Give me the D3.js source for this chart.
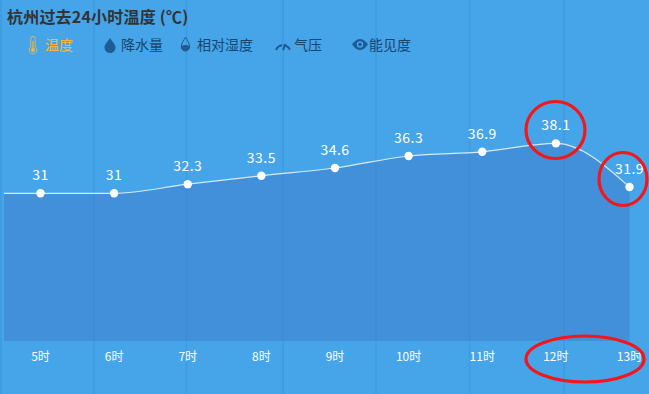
<!DOCTYPE html>
<html>
<head>
<meta charset="utf-8">
<script src="https://d3js.org/d3.v7.min.js"></script>
<style>
html, body { margin: 0; padding: 0; background: #46a4e9; overflow: hidden; }
text { font-family: "Noto Sans CJK SC", "Noto Sans", sans-serif; }
</style>
</head>
<body>
<div id="chart"></div>
<script>
const hours = ["5时", "6时", "7时", "8时", "9时", "10时", "11时", "12时", "13时"];
const temps = [31, 31, 32.3, 33.5, 34.6, 36.3, 36.9, 38.1, 31.9];
const gridLines = [1, 94, 186.5, 283, 376, 469.5, 564]; // background stripes, not on the hours
const legendNames = ["温度", "降水量", "相对湿度", "气压", "能见度"];
const titleText = "杭州过去24小时温度 (℃)";

const width = 649, height = 394;

const svg = d3.select("#chart").append("svg")
    .attr("width", width)
    .attr("height", height)
    .style("display", "block");

svg.append("rect")
    .attr("width", width)
    .attr("height", height)
    .attr("fill", "#46a4e9");

// Scales
const x = d3.scalePoint()
    .domain(hours)
    .range([40.5, 629.5]);
const y = d3.scaleLinear()
    .domain([10, 40])
    .range([341, 130]);

const left = 4;

// The series runs flat from the left edge up to the first point
const points = [[left, y(temps[0])]].concat(hours.map((h, i) => [x(h), y(temps[i])]));

const area = d3.area()
    .x(d => d[0])
    .y0(y(10))
    .y1(d => d[1])
    .curve(d3.curveMonotoneX);
const line = d3.line()
    .x(d => d[0])
    .y(d => d[1])
    .curve(d3.curveMonotoneX);

svg.append("path")
    .attr("d", area(points))
    .attr("fill", "#4390da");

// Vertical stripes, faint and on top of the area
svg.selectAll(".stripe")
    .data(gridLines)
    .enter()
    .append("line")
    .attr("class", "stripe")
    .attr("x1", d => d)
    .attr("x2", d => d)
    .attr("y1", 0)
    .attr("y2", height)
    .attr("stroke", "#2f8ccb")
    .attr("stroke-opacity", 0.35)
    .attr("stroke-width", 1.5);

svg.append("path")
    .attr("d", line(points))
    .attr("fill", "none")
    .attr("stroke", "#d5eafa")
    .attr("stroke-width", 1.2);

// Dots and value labels
svg.selectAll(".dot")
    .data(temps)
    .enter()
    .append("circle")
    .attr("class", "dot")
    .attr("cx", (d, i) => x(hours[i]))
    .attr("cy", d => y(d))
    .attr("r", 4.2)
    .attr("fill", "#fff");

svg.selectAll(".val")
    .data(temps)
    .enter()
    .append("text")
    .attr("class", "val")
    .attr("x", (d, i) => x(hours[i]))
    .attr("y", d => y(d) - 13)
    .attr("text-anchor", "middle")
    .attr("fill", "#fff")
    .style("font-size", "14px")
    .style("letter-spacing", "0.5px")
    .text(d => d);

// Hour labels
svg.selectAll(".hour")
    .data(hours)
    .enter()
    .append("text")
    .attr("class", "hour")
    .attr("x", d => x(d))
    .attr("y", 361)
    .attr("text-anchor", "middle")
    .attr("fill", "#fff")
    .style("font-size", "12px")
    .text(d => d);

// Title
svg.append("text")
    .attr("x", 7)
    .attr("y", 23)
    .attr("fill", "#333")
    .style("font-size", "16px")
    .style("font-weight", "bold")
    .style("letter-spacing", "0.2px")
    .text(titleText);

// Legend
const legendX = [45, 121, 197, 294, 369];
const legendColor = "#1d5c94";
const legendText = "#17466f";
svg.selectAll(".legend")
    .data(legendNames)
    .enter()
    .append("text")
    .attr("class", "legend")
    .attr("x", (d, i) => legendX[i])
    .attr("y", 50)
    .attr("fill", (d, i) => i == 0 ? "#ffb733" : legendText)
    .style("font-size", "14px")
    .text(d => d);

// thermometer
const thermo = svg.append("g").attr("transform", "translate(33,45)");
thermo.append("path")
    .attr("d", "M-2.2,-6.5 a2.2,2.2 0 0 1 4.4,0 V2 a3.8,3.8 0 1 1 -4.4,0 Z")
    .attr("fill", "none")
    .attr("stroke", "#dcb65a")
    .attr("stroke-width", 1);
thermo.append("circle").attr("cy", 5).attr("r", 2).attr("fill", "#ffb733");
thermo.append("rect").attr("x", -0.6).attr("y", -4).attr("width", 1.2).attr("height", 8).attr("fill", "#ffb733");

// rain drop
svg.append("path")
    .attr("transform", "translate(110,45)")
    .attr("d", "M0,-7 C2,-3.5 5.5,-1 5.5,2.5 A5.5,5.5 0 0 1 -5.5,2.5 C-5.5,-1 -2,-3.5 0,-7 Z")
    .attr("fill", legendColor);

// humidity drop, half filled
const humid = svg.append("g").attr("transform", "translate(185.5,44)");
humid.append("path")
    .attr("d", "M0,-7 C1.5,-3.5 4.2,-1 4.2,2.8 A4.2,4.2 0 0 1 -4.2,2.8 C-4.2,-1 -1.5,-3.5 0,-7 Z")
    .attr("fill", "none")
    .attr("stroke", legendColor)
    .attr("stroke-width", 1);
humid.append("path")
    .attr("d", "M-4.2,2 Q0,0 4.2,2 V2.8 A4.2,4.2 0 0 1 -4.2,2.8 Z")
    .attr("fill", legendColor);

// gauge, arc broken into segments
const gauge = svg.append("g").attr("transform", "translate(283,50)");
gauge.append("path")
    .attr("d", "M-7,0 A7.5,7.5 0 0 1 7,0")
    .attr("fill", "none")
    .attr("stroke", legendColor)
    .attr("stroke-width", 2)
    .attr("stroke-dasharray", "8 1.5");
gauge.append("line")
    .attr("x1", 0).attr("y1", 0).attr("x2", 2.5).attr("y2", -6)
    .attr("stroke", legendColor)
    .attr("stroke-width", 2);

// eye
const eye = svg.append("g").attr("transform", "translate(360,44.5)");
eye.append("path")
    .attr("d", "M-8,0 Q0,-11 8,0 Q0,11 -8,0 Z")
    .attr("fill", legendColor);
eye.append("circle").attr("r", 3.2).attr("fill", "#46a4e9");
eye.append("circle").attr("r", 1.8).attr("fill", legendColor);

// Red hand drawn annotations
const marks = [
    { cx: 555.5, cy: 130, rx: 29.5, ry: 28.5 },
    { cx: 623, cy: 179, rx: 24, ry: 26.5 },
    { cx: 585, cy: 359, rx: 59, ry: 23 }
];
svg.selectAll(".mark")
    .data(marks)
    .enter()
    .append("ellipse")
    .attr("class", "mark")
    .attr("cx", d => d.cx)
    .attr("cy", d => d.cy)
    .attr("rx", d => d.rx)
    .attr("ry", d => d.ry)
    .attr("fill", "none")
    .attr("stroke", "#f5161a")
    .attr("stroke-width", 3.2);
</script>
</body>
</html>
